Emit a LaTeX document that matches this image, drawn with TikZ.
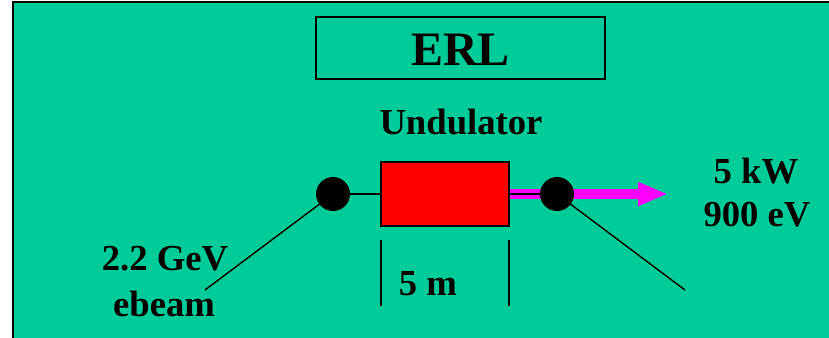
\documentclass[tikz,border=0pt]{standalone}
\usepackage{fontspec}
\setmainfont{Liberation Serif}
\usetikzlibrary{positioning,arrows.meta}

\begin{document}
\begin{tikzpicture}[x=0.75pt,y=-0.75pt,
  lbl/.style={font=\fontsize{27.5}{30}\selectfont\bfseries,inner sep=0pt,outer sep=0pt,anchor=base},
  titlebox/.style={draw=black,line width=1.5pt,minimum width=216.75pt,minimum height=46.5pt,inner sep=0pt},
  undbox/.style={draw=black,line width=0.8pt,fill=undColor,minimum width=96pt,minimum height=48pt,inner sep=0pt},
  dot/.style={circle,fill=black,minimum size=25.5pt,inner sep=0pt},
  wire/.style={draw=black,line width=1.1pt}]
\definecolor{bgColor}{RGB}{0,204,153}
\definecolor{undColor}{RGB}{255,0,0}
\definecolor{beamColor}{RGB}{255,0,255}
\path[use as bounding box,fill=white] (0,0) rectangle (829,337);
\begin{scope}
\path[clip] (0,0) rectangle (829,337);
\path[fill=bgColor,draw=black,line width=1.8pt] (13,2) rectangle (845,350);
\end{scope}

\node[titlebox] (erlbox) at (460.5,48) {};
\node[font=\fontsize{36}{40}\selectfont\bfseries,inner sep=0pt,anchor=base] (erl) at (460.5,65) {ERL};

\node[lbl] (undlbl) at (461,134) {Undulator};
\node[undbox] (und) at (445,194) {};
\coordinate (tip) at (668,194);

\draw[beamColor,line width=7.5pt,-{Triangle[length=22.5pt,width=16.5pt]}] (und.east) -- (tip);

\node[dot] (inl) at (333,194) {};
\node[dot] (outl) at (557,194) {};

\path[wire] (inl) -- (und.west);
\path[wire] (und.east) -- (outl);

\coordinate (ebend) at (205,290);
\coordinate (xend) at (685,290);
\path[wire] (inl.center) -- (ebend);
\path[wire] (outl.center) -- (xend);

\coordinate (tickla) at (381,240);
\coordinate (ticklb) at (381,306);
\coordinate (tickra) at (509,240);
\coordinate (tickrb) at (509,306);
\path[wire] (tickla) -- (ticklb);
\path[wire] (tickra) -- (tickrb);
\node[lbl] (len) at (428,295) {5 m};

\node[lbl] (gev) at (165,270) {2.2 GeV};
\node[lbl] (ebeam) at (164,316) {ebeam};

\node[lbl] (kw) at (756,183) {5 kW};
\node[lbl] (ev) at (757,226) {900 eV};
\end{tikzpicture}
\end{document}
